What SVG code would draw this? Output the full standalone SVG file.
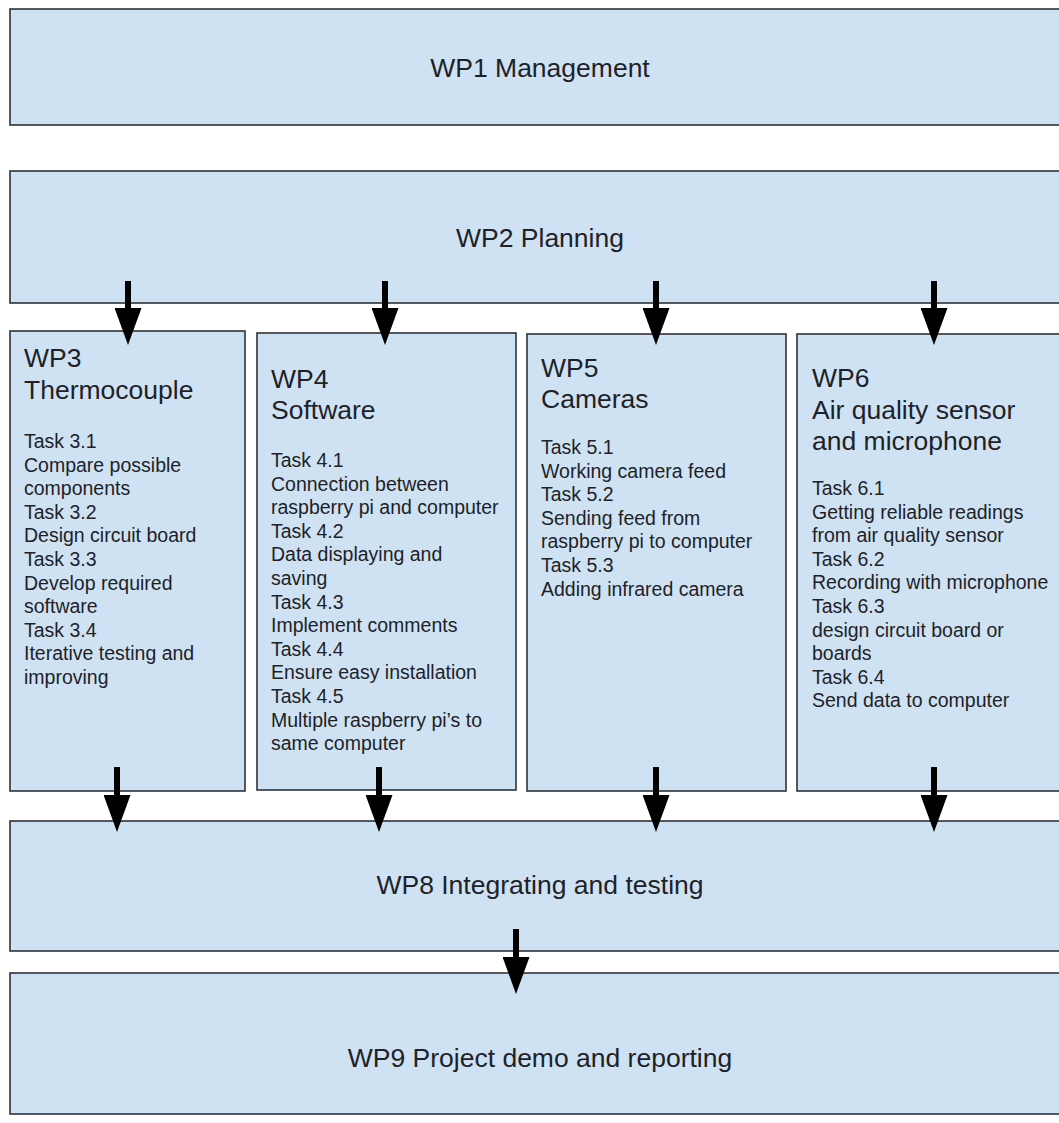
<svg xmlns="http://www.w3.org/2000/svg" width="1059" height="1123" viewBox="0 0 1059 1123">
  <style>
    .box { fill: #cfe2f3; stroke: #2f3337; stroke-width: 1.6; }
    .title { font-family: "Liberation Sans", Arial, sans-serif; font-size: 26.5px; fill: #1e2226; }
    .task { font-family: "Liberation Sans", Arial, sans-serif; font-size: 19.5px; fill: #1e2226; }
    .conn { stroke: #000; stroke-width: 6; fill: none; marker-end: url(#head); }
  </style>
  <defs>
    <marker id="head" viewBox="0 0 37 27" markerWidth="37" markerHeight="27" refX="0" refY="13.5" orient="auto" markerUnits="userSpaceOnUse">
      <path d="M0,0 L37,13.5 L0,27 Z" fill="#000"/>
    </marker>
  </defs>
  <rect width="1059" height="1123" fill="#ffffff"/>

  <g id="wp1">
    <rect class="box" x="10" y="9" width="1065" height="116"/>
    <text class="title" x="540" y="77" text-anchor="middle">WP1 Management</text>
  </g>
  <g id="wp2">
    <rect class="box" x="10" y="171" width="1065" height="132"/>
    <text class="title" x="540" y="247" text-anchor="middle">WP2 Planning</text>
  </g>
  <g id="wp3">
    <rect class="box" x="10" y="331" width="235" height="460"/>
    <text class="title" x="24" y="367">WP3<tspan x="24" dy="32">Thermocouple</tspan></text>
    <text class="task" x="24" y="448">Task 3.1<tspan x="24" dy="23.6">Compare possible</tspan><tspan x="24" dy="23.6">components</tspan><tspan x="24" dy="23.6">Task 3.2</tspan><tspan x="24" dy="23.6">Design circuit board</tspan><tspan x="24" dy="23.6">Task 3.3</tspan><tspan x="24" dy="23.6">Develop required</tspan><tspan x="24" dy="23.6">software</tspan><tspan x="24" dy="23.6">Task 3.4</tspan><tspan x="24" dy="23.6">Iterative testing and</tspan><tspan x="24" dy="23.6">improving</tspan></text>
  </g>
  <g id="wp4">
    <rect class="box" x="257" y="333" width="259" height="457"/>
    <text class="title" x="271" y="388">WP4<tspan x="271" dy="31">Software</tspan></text>
    <text class="task" x="271" y="467">Task 4.1<tspan x="271" dy="23.6">Connection between</tspan><tspan x="271" dy="23.6">raspberry pi and computer</tspan><tspan x="271" dy="23.6">Task 4.2</tspan><tspan x="271" dy="23.6">Data displaying and</tspan><tspan x="271" dy="23.6">saving</tspan><tspan x="271" dy="23.6">Task 4.3</tspan><tspan x="271" dy="23.6">Implement comments</tspan><tspan x="271" dy="23.6">Task 4.4</tspan><tspan x="271" dy="23.6">Ensure easy installation</tspan><tspan x="271" dy="23.6">Task 4.5</tspan><tspan x="271" dy="23.6">Multiple raspberry pi’s to</tspan><tspan x="271" dy="23.6">same computer</tspan></text>
  </g>
  <g id="wp5">
    <rect class="box" x="527" y="334" width="259" height="457"/>
    <text class="title" x="541" y="377">WP5<tspan x="541" dy="31">Cameras</tspan></text>
    <text class="task" x="541" y="454">Task 5.1<tspan x="541" dy="23.6">Working camera feed</tspan><tspan x="541" dy="23.6">Task 5.2</tspan><tspan x="541" dy="23.6">Sending feed from</tspan><tspan x="541" dy="23.6">raspberry pi to computer</tspan><tspan x="541" dy="23.6">Task 5.3</tspan><tspan x="541" dy="23.6">Adding infrared camera</tspan></text>
  </g>
  <g id="wp6">
    <rect class="box" x="797" y="334" width="275" height="457"/>
    <text class="title" x="812" y="387">WP6<tspan x="812" dy="31.5">Air quality sensor</tspan><tspan x="812" dy="31.5">and microphone</tspan></text>
    <text class="task" x="812" y="495">Task 6.1<tspan x="812" dy="23.6">Getting reliable readings</tspan><tspan x="812" dy="23.6">from air quality sensor</tspan><tspan x="812" dy="23.6">Task 6.2</tspan><tspan x="812" dy="23.6">Recording with microphone</tspan><tspan x="812" dy="23.6">Task 6.3</tspan><tspan x="812" dy="23.6">design circuit board or</tspan><tspan x="812" dy="23.6">boards</tspan><tspan x="812" dy="23.6">Task 6.4</tspan><tspan x="812" dy="23.6">Send data to computer</tspan></text>
  </g>
  <g id="wp8">
    <rect class="box" x="10" y="821" width="1065" height="130"/>
    <text class="title" x="540" y="894" text-anchor="middle">WP8 Integrating and testing</text>
  </g>
  <g id="wp9">
    <rect class="box" x="10" y="973" width="1065" height="141"/>
    <text class="title" x="540" y="1067" text-anchor="middle">WP9 Project demo and reporting</text>
  </g>

  <g id="connectors">
    <line class="conn" x1="128" y1="281" x2="128" y2="308"/>
    <line class="conn" x1="385" y1="281" x2="385" y2="308"/>
    <line class="conn" x1="656" y1="281" x2="656" y2="308"/>
    <line class="conn" x1="934" y1="281" x2="934" y2="308"/>
    <line class="conn" x1="117" y1="767" x2="117" y2="795"/>
    <line class="conn" x1="379" y1="767" x2="379" y2="795"/>
    <line class="conn" x1="656" y1="767" x2="656" y2="795"/>
    <line class="conn" x1="934" y1="767" x2="934" y2="795"/>
    <line class="conn" x1="516" y1="929" x2="516" y2="957"/>
  </g>
</svg>
